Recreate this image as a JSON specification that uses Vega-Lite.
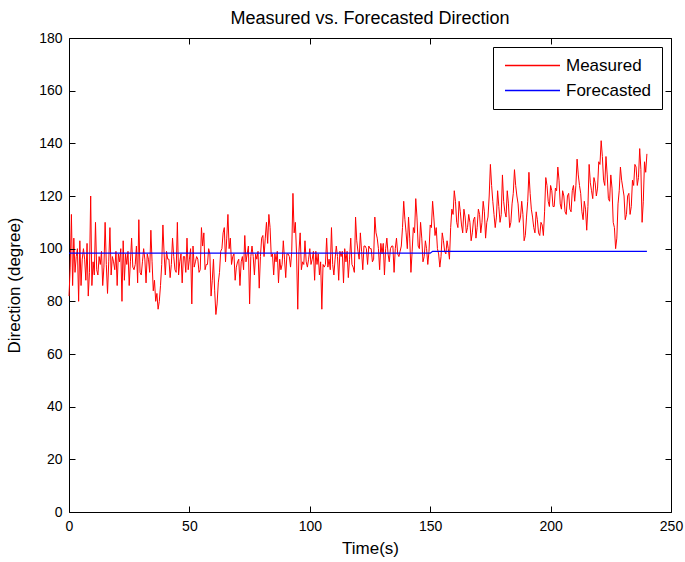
{
  "$schema": "https://vega.github.io/schema/vega-lite/v6.json",
  "autosize": {"type": "none"},
  "padding": {"left": 69, "top": 38, "right": 14, "bottom": 50},
  "width": 602,
  "height": 474,
  "background": "white",
  "title": {"text": "Measured vs. Forecasted Direction", "fontSize": 18, "fontWeight": "normal", "font": "Liberation Sans", "color": "black", "offset": 3, "anchor": "middle"},
  "datasets": {
    "measured": [
      {"t":0,"v":82},{"t":0.5,"v":93},{"t":1,"v":113},{"t":1.5,"v":86},{"t":2,"v":104},{"t":2.5,"v":91},{"t":3,"v":97},{"t":3.5,"v":100},{"t":4,"v":80},{"t":4.5,"v":103},
      {"t":5,"v":86},{"t":5.5,"v":96},{"t":6,"v":100},{"t":6.5,"v":96},{"t":7,"v":88},{"t":7.5,"v":102},{"t":8,"v":82},{"t":8.5,"v":91},{"t":9,"v":120},{"t":9.5,"v":86},
      {"t":10,"v":95},{"t":10.5,"v":90},{"t":11,"v":110},{"t":11.5,"v":92},{"t":12,"v":90},{"t":12.5,"v":97},{"t":13,"v":94},{"t":13.5,"v":99},{"t":14,"v":86},{"t":14.5,"v":93},
      {"t":15,"v":110},{"t":15.5,"v":94},{"t":16,"v":83},{"t":16.5,"v":95},{"t":17,"v":108},{"t":17.5,"v":90},{"t":18,"v":97},{"t":18.5,"v":95},{"t":19,"v":92},{"t":19.5,"v":99},
      {"t":20,"v":86},{"t":20.5,"v":98},{"t":21,"v":95},{"t":21.5,"v":100},{"t":22,"v":80},{"t":22.5,"v":103},{"t":23,"v":88},{"t":23.5,"v":98},{"t":24,"v":94},{"t":24.5,"v":99},
      {"t":25,"v":86},{"t":25.5,"v":95},{"t":26,"v":104},{"t":26.5,"v":93},{"t":27,"v":92},{"t":27.5,"v":94},{"t":28,"v":101},{"t":28.5,"v":87},{"t":29,"v":111},{"t":29.5,"v":91},
      {"t":30,"v":90},{"t":30.5,"v":95},{"t":31,"v":100},{"t":31.5,"v":96},{"t":32,"v":87},{"t":32.5,"v":98},{"t":33,"v":96},{"t":33.5,"v":91},{"t":34,"v":107},{"t":34.5,"v":95},
      {"t":35,"v":84},{"t":35.5,"v":88},{"t":36,"v":80},{"t":36.5,"v":83},{"t":37,"v":77},{"t":37.5,"v":80},{"t":38,"v":86},{"t":38.5,"v":94},{"t":39,"v":109},{"t":39.5,"v":98},
      {"t":40,"v":90},{"t":40.5,"v":99},{"t":41,"v":96},{"t":41.5,"v":96},{"t":42,"v":89},{"t":42.5,"v":94},{"t":43,"v":104},{"t":43.5,"v":97},{"t":44,"v":92},{"t":44.5,"v":91},
      {"t":45,"v":110},{"t":45.5,"v":90},{"t":46,"v":95},{"t":46.5,"v":98},{"t":47,"v":87},{"t":47.5,"v":97},{"t":48,"v":97},{"t":48.5,"v":91},{"t":49,"v":104},{"t":49.5,"v":92},
      {"t":50,"v":96},{"t":50.5,"v":100},{"t":51,"v":79},{"t":51.5,"v":101},{"t":52,"v":93},{"t":52.5,"v":95},{"t":53,"v":97},{"t":53.5,"v":96},{"t":54,"v":91},{"t":54.5,"v":92},
      {"t":55,"v":108},{"t":55.5,"v":101},{"t":56,"v":106},{"t":56.5,"v":92},{"t":57,"v":94},{"t":57.5,"v":94},{"t":58,"v":100},{"t":58.5,"v":98},{"t":59,"v":82},{"t":59.5,"v":88},
      {"t":60,"v":96},{"t":60.5,"v":84},{"t":61,"v":75},{"t":61.5,"v":79},{"t":62,"v":87},{"t":62.5,"v":91},{"t":63,"v":99},{"t":63.5,"v":100},{"t":64,"v":106},{"t":64.5,"v":108},
      {"t":65,"v":95},{"t":65.5,"v":104},{"t":66,"v":113},{"t":66.5,"v":100},{"t":67,"v":104},{"t":67.5,"v":94},{"t":68,"v":97},{"t":68.5,"v":98},{"t":69,"v":88},{"t":69.5,"v":93},
      {"t":70,"v":95},{"t":70.5,"v":96},{"t":71,"v":86},{"t":71.5,"v":95},{"t":72,"v":97},{"t":72.5,"v":92},{"t":73,"v":105},{"t":73.5,"v":95},{"t":74,"v":98},{"t":74.5,"v":101},
      {"t":75,"v":79},{"t":75.5,"v":97},{"t":76,"v":101},{"t":76.5,"v":97},{"t":77,"v":90},{"t":77.5,"v":98},{"t":78,"v":96},{"t":78.5,"v":99},{"t":79,"v":85},{"t":79.5,"v":97},
      {"t":80,"v":104},{"t":80.5,"v":105},{"t":81,"v":97},{"t":81.5,"v":104},{"t":82,"v":110},{"t":82.5,"v":102},{"t":83,"v":113},{"t":83.5,"v":108},{"t":84,"v":97},{"t":84.5,"v":98},
      {"t":85,"v":90},{"t":85.5,"v":98},{"t":86,"v":95},{"t":86.5,"v":99},{"t":87,"v":87},{"t":87.5,"v":96},{"t":88,"v":92},{"t":88.5,"v":94},{"t":89,"v":103},{"t":89.5,"v":96},
      {"t":90,"v":89},{"t":90.5,"v":98},{"t":91,"v":98},{"t":91.5,"v":97},{"t":92,"v":93},{"t":92.5,"v":99},{"t":93,"v":121},{"t":93.5,"v":106},{"t":94,"v":110},{"t":94.5,"v":98},
      {"t":95,"v":77},{"t":95.5,"v":99},{"t":96,"v":106},{"t":96.5,"v":92},{"t":97,"v":95},{"t":97.5,"v":94},{"t":98,"v":103},{"t":98.5,"v":95},{"t":99,"v":93},{"t":99.5,"v":96},
      {"t":100,"v":100},{"t":100.5,"v":94},{"t":101,"v":96},{"t":101.5,"v":99},{"t":102,"v":88},{"t":102.5,"v":99},{"t":103,"v":94},{"t":103.5,"v":98},{"t":104,"v":90},{"t":104.5,"v":95},
      {"t":105,"v":77},{"t":105.5,"v":94},{"t":106,"v":93},{"t":106.5,"v":94},{"t":107,"v":104},{"t":107.5,"v":93},{"t":108,"v":96},{"t":108.5,"v":92},{"t":109,"v":108},{"t":109.5,"v":94},
      {"t":110,"v":90},{"t":110.5,"v":96},{"t":111,"v":101},{"t":111.5,"v":97},{"t":112,"v":88},{"t":112.5,"v":99},{"t":113,"v":97},{"t":113.5,"v":99},{"t":114,"v":87},{"t":114.5,"v":100},
      {"t":115,"v":95},{"t":115.5,"v":99},{"t":116,"v":89},{"t":116.5,"v":96},{"t":117,"v":104},{"t":117.5,"v":94},{"t":118,"v":93},{"t":118.5,"v":91},{"t":119,"v":112},{"t":119.5,"v":103},
      {"t":120,"v":99},{"t":120.5,"v":96},{"t":121,"v":106},{"t":121.5,"v":99},{"t":122,"v":92},{"t":122.5,"v":101},{"t":123,"v":101},{"t":123.5,"v":100},{"t":124,"v":94},{"t":124.5,"v":101},
      {"t":125,"v":100},{"t":125.5,"v":100},{"t":126,"v":95},{"t":126.5,"v":96},{"t":127,"v":112},{"t":127.5,"v":106},{"t":128,"v":104},{"t":128.5,"v":100},{"t":129,"v":92},{"t":129.5,"v":102},
      {"t":130,"v":98},{"t":130.5,"v":102},{"t":131,"v":90},{"t":131.5,"v":100},{"t":132,"v":104},{"t":132.5,"v":98},{"t":133,"v":95},{"t":133.5,"v":100},{"t":134,"v":101},{"t":134.5,"v":101},
      {"t":135,"v":91},{"t":135.5,"v":100},{"t":136,"v":104},{"t":136.5,"v":98},{"t":137,"v":97},{"t":137.5,"v":99},{"t":138,"v":101},{"t":138.5,"v":108},{"t":139,"v":118},{"t":139.5,"v":111},
      {"t":140,"v":106},{"t":140.5,"v":100},{"t":141,"v":112},{"t":141.5,"v":104},{"t":142,"v":91},{"t":142.5,"v":99},{"t":143,"v":108},{"t":143.5,"v":106},{"t":144,"v":119},{"t":144.5,"v":112},
      {"t":145,"v":101},{"t":145.5,"v":100},{"t":146,"v":110},{"t":146.5,"v":104},{"t":147,"v":95},{"t":147.5,"v":97},{"t":148,"v":103},{"t":148.5,"v":100},{"t":149,"v":94},{"t":149.5,"v":99},
      {"t":150,"v":109},{"t":150.5,"v":108},{"t":151,"v":118},{"t":151.5,"v":112},{"t":152,"v":105},{"t":152.5,"v":108},{"t":153,"v":100},{"t":153.5,"v":98},{"t":154,"v":93},{"t":154.5,"v":97},
      {"t":155,"v":106},{"t":155.5,"v":103},{"t":156,"v":99},{"t":156.5,"v":98},{"t":157,"v":103},{"t":157.5,"v":100},{"t":158,"v":96},{"t":158.5,"v":108},{"t":159,"v":115},{"t":159.5,"v":113},
      {"t":160,"v":122},{"t":160.5,"v":118},{"t":161,"v":110},{"t":161.5,"v":108},{"t":162,"v":118},{"t":162.5,"v":114},{"t":163,"v":109},{"t":163.5,"v":106},{"t":164,"v":115},{"t":164.5,"v":112},
      {"t":165,"v":106},{"t":165.5,"v":108},{"t":166,"v":113},{"t":166.5,"v":110},{"t":167,"v":103},{"t":167.5,"v":106},{"t":168,"v":111},{"t":168.5,"v":112},{"t":169,"v":104},{"t":169.5,"v":108},
      {"t":170,"v":115},{"t":170.5,"v":113},{"t":171,"v":106},{"t":171.5,"v":110},{"t":172,"v":118},{"t":172.5,"v":114},{"t":173,"v":104},{"t":173.5,"v":110},{"t":174,"v":112},{"t":174.5,"v":120},
      {"t":175,"v":132},{"t":175.5,"v":124},{"t":176,"v":118},{"t":176.5,"v":113},{"t":177,"v":108},{"t":177.5,"v":112},{"t":178,"v":122},{"t":178.5,"v":116},{"t":179,"v":110},{"t":179.5,"v":113},
      {"t":180,"v":128},{"t":180.5,"v":118},{"t":181,"v":114},{"t":181.5,"v":112},{"t":182,"v":122},{"t":182.5,"v":117},{"t":183,"v":108},{"t":183.5,"v":110},{"t":184,"v":117},{"t":184.5,"v":121},
      {"t":185,"v":130},{"t":185.5,"v":124},{"t":186,"v":120},{"t":186.5,"v":117},{"t":187,"v":110},{"t":187.5,"v":112},{"t":188,"v":118},{"t":188.5,"v":113},{"t":189,"v":103},{"t":189.5,"v":105},
      {"t":190,"v":112},{"t":190.5,"v":118},{"t":191,"v":129},{"t":191.5,"v":121},{"t":192,"v":115},{"t":192.5,"v":112},{"t":193,"v":108},{"t":193.5,"v":106},{"t":194,"v":114},{"t":194.5,"v":111},
      {"t":195,"v":106},{"t":195.5,"v":105},{"t":196,"v":110},{"t":196.5,"v":109},{"t":197,"v":105},{"t":197.5,"v":114},{"t":198,"v":127},{"t":198.5,"v":124},{"t":199,"v":118},{"t":199.5,"v":116},
      {"t":200,"v":124},{"t":200.5,"v":122},{"t":201,"v":116},{"t":201.5,"v":116},{"t":202,"v":123},{"t":202.5,"v":122},{"t":203,"v":131},{"t":203.5,"v":126},{"t":204,"v":117},{"t":204.5,"v":115},
      {"t":205,"v":122},{"t":205.5,"v":120},{"t":206,"v":114},{"t":206.5,"v":113},{"t":207,"v":120},{"t":207.5,"v":121},{"t":208,"v":115},{"t":208.5,"v":114},{"t":209,"v":122},{"t":209.5,"v":124},
      {"t":210,"v":118},{"t":210.5,"v":124},{"t":211,"v":134},{"t":211.5,"v":128},{"t":212,"v":124},{"t":212.5,"v":121},{"t":213,"v":114},{"t":213.5,"v":111},{"t":214,"v":118},{"t":214.5,"v":115},
      {"t":215,"v":107},{"t":215.5,"v":116},{"t":216,"v":132},{"t":216.5,"v":125},{"t":217,"v":122},{"t":217.5,"v":119},{"t":218,"v":127},{"t":218.5,"v":125},{"t":219,"v":120},{"t":219.5,"v":123},
      {"t":220,"v":133},{"t":220.5,"v":132},{"t":221,"v":141},{"t":221.5,"v":135},{"t":222,"v":126},{"t":222.5,"v":124},{"t":223,"v":135},{"t":223.5,"v":128},{"t":224,"v":119},{"t":224.5,"v":118},
      {"t":225,"v":128},{"t":225.5,"v":123},{"t":226,"v":110},{"t":226.5,"v":108},{"t":227,"v":100},{"t":227.5,"v":104},{"t":228,"v":117},{"t":228.5,"v":122},{"t":229,"v":131},{"t":229.5,"v":126},
      {"t":230,"v":123},{"t":230.5,"v":120},{"t":231,"v":111},{"t":231.5,"v":113},{"t":232,"v":120},{"t":232.5,"v":121},{"t":233,"v":113},{"t":233.5,"v":116},{"t":234,"v":126},{"t":234.5,"v":124},
      {"t":235,"v":132},{"t":235.5,"v":131},{"t":236,"v":124},{"t":236.5,"v":127},{"t":237,"v":138},{"t":237.5,"v":130},{"t":238,"v":110},{"t":238.5,"v":118},{"t":239,"v":133},{"t":239.5,"v":129},
      {"t":240,"v":136}
    ],
    "forecast": [
      {"t":0,"v":98.3},{"t":150,"v":98.3},{"t":151,"v":99.0},{"t":240,"v":99.0}
    ]
  },
  "layer": [
    {
      "data": {"name": "measured"},
      "mark": {"type": "line", "strokeWidth": 1, "interpolate": "linear"},
      "encoding": {
        "x": {"field": "t", "type": "quantitative", "scale": {"domain": [0, 250], "nice": false},
              "axis": {"orient": "bottom", "values": [0,50,100,150,200,250], "title": "Time(s)",
                       "ticks": true, "tickSize": 6, "tickColor": "black", "offset": -6, "zindex": 2}},
        "y": {"field": "v", "type": "quantitative", "scale": {"domain": [0, 180], "nice": false, "zero": false},
              "axis": {"orient": "left", "values": [0,20,40,60,80,100,120,140,160,180], "title": "Direction (degree)", "titleY": 247,
                       "ticks": true, "tickSize": 6, "tickColor": "black", "offset": -6, "zindex": 2}},
        "color": {"datum": "Measured", "type": "nominal",
                  "scale": {"domain": ["Measured", "Forecasted"], "range": ["#ff0000", "#0000ff"]},
                  "legend": {"orient": "none", "legendX": 424, "legendY": 9, "title": null,
                             "symbolType": "M-5,0H5", "symbolSize": 121, "symbolStrokeWidth": 1.4,
                             "symbolOffset": 21,
                             "labelFontSize": 17, "labelFont": "Liberation Sans", "labelColor": "black",
                             "labelOffset": 25, "rowPadding": 7,
                             "strokeColor": "black", "fillColor": "white", "padding": 10, "cornerRadius": 0}}
      }
    },
    {
      "data": {"name": "forecast"},
      "mark": {"type": "line", "strokeWidth": 1.2},
      "encoding": {
        "x": {"field": "t", "type": "quantitative", "axis": null},
        "y": {"field": "v", "type": "quantitative", "axis": null},
        "color": {"datum": "Forecasted", "type": "nominal"}
      }
    },
    {
      "data": {"name": "forecast"},
      "mark": {"type": "line", "strokeOpacity": 0},
      "encoding": {
        "x": {"field": "t", "type": "quantitative",
              "axis": {"orient": "top", "values": [0,50,100,150,200,250], "labels": false, "title": null,
                       "ticks": true, "tickSize": 6, "tickColor": "black", "offset": -6, "zindex": 2}},
        "y": {"field": "v", "type": "quantitative",
              "axis": {"orient": "right", "values": [0,20,40,60,80,100,120,140,160,180], "labels": false, "title": null,
                       "ticks": true, "tickSize": 6, "tickColor": "black", "offset": -6, "zindex": 2}}
      }
    }
  ],
  "resolve": {"axis": {"x": "independent", "y": "independent"}},
  "config": {
    "view": {"stroke": "black", "strokeWidth": 1},
    "axis": {
      "grid": false,
      "domain": false,
      "tickWidth": 1,
      "labelFlush": false,
      "labelPadding": 7,
      "labelFont": "Liberation Sans",
      "labelFontSize": 14,
      "labelColor": "black",
      "titleFont": "Liberation Sans",
      "titleFontSize": 17,
      "titleFontWeight": "normal",
      "titleColor": "black"
    },
    "axisX": {"titlePadding": 7},
    "axisY": {"titlePadding": 15}
  }
}
